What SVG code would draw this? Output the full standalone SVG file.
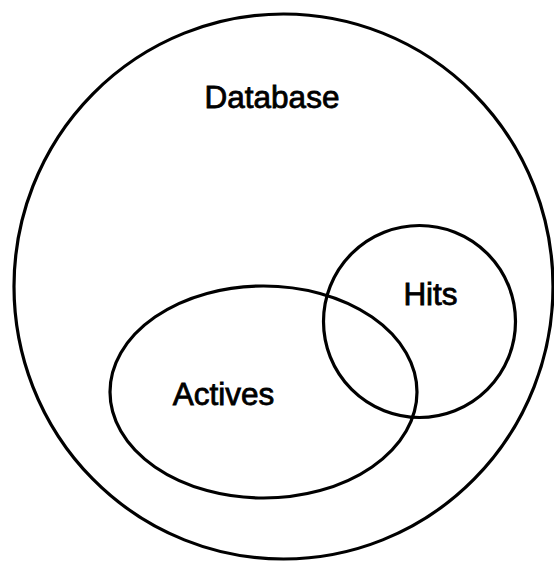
<svg xmlns="http://www.w3.org/2000/svg" width="554" height="561" viewBox="0 0 554 561">
<style>
.shape{fill:none;stroke:#000;stroke-width:3.2}
.lbl{font-family:"Liberation Sans",Arial,Helvetica,sans-serif;font-size:31.5px;fill:#000;stroke:#000;stroke-width:0.8;text-anchor:middle}
</style>
<rect width="554" height="561" fill="#fff"/>
<g id="database">
<ellipse class="shape" cx="283.5" cy="286.5" rx="269.5" ry="272.5"/>
<text class="lbl" x="272" y="108">Database</text>
</g>
<g id="actives">
<ellipse class="shape" cx="263.5" cy="392" rx="153.5" ry="106"/>
<text class="lbl" x="223.5" y="405">Actives</text>
</g>
<g id="hits">
<circle class="shape" cx="419.5" cy="321.5" r="96"/>
<text class="lbl" x="430.5" y="305">Hits</text>
</g>
<g id="connectors"/>
</svg>
